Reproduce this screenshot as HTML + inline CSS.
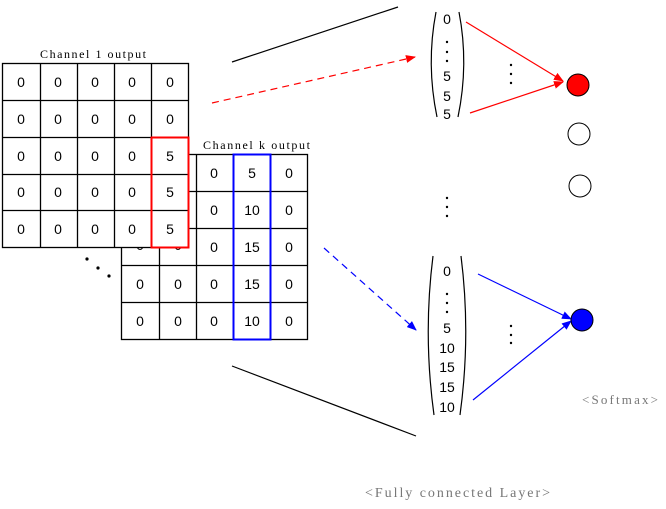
<!DOCTYPE html>
<html><head><meta charset="utf-8"><style>
html,body{margin:0;padding:0;background:#fff;}
svg{display:block;}
text{font-family:"Liberation Serif","Noto Serif CJK SC",serif;}
.n text{font-family:"Liberation Sans","Noto Sans CJK KR",sans-serif;font-size:14px;text-anchor:middle;}
</style></head><body>
<svg width="666" height="509" viewBox="0 0 666 509" xmlns="http://www.w3.org/2000/svg">
<defs>
<marker id="ar" markerWidth="10" markerHeight="8" refX="9" refY="4" orient="auto" markerUnits="userSpaceOnUse"><path d="M0,0 L10,4 L0,8 z" fill="#f00"/></marker>
<marker id="ab" markerWidth="10" markerHeight="8" refX="9" refY="4" orient="auto" markerUnits="userSpaceOnUse"><path d="M0,0 L10,4 L0,8 z" fill="#00f"/></marker>
</defs>
<g stroke="#000" stroke-width="1.3" fill="#fff">
<rect x="121.5" y="154.5" width="186" height="185"/>
<path d="M159.5 154.5V339.5M196.5 154.5V339.5M233.5 154.5V339.5M270.5 154.5V339.5M121.5 191.5H307.5M121.5 228.5H307.5M121.5 265.5H307.5M121.5 302.5H307.5" fill="none"/>
</g>
<g class="n">
<text x="140" y="250">0</text><text x="178" y="250">0</text>
<text x="140" y="289">0</text><text x="178" y="289">0</text><text x="214" y="289">0</text><text x="252" y="289">15</text><text x="289" y="289">0</text>
<text x="140" y="326">0</text><text x="178" y="326">0</text><text x="214" y="326">0</text><text x="252" y="326">10</text><text x="289" y="326">0</text>
<text x="214" y="178">0</text><text x="252" y="178">5</text><text x="289" y="178">0</text>
<text x="214" y="215">0</text><text x="252" y="215">10</text><text x="289" y="215">0</text>
<text x="214" y="252">0</text><text x="252" y="252">15</text><text x="289" y="252">0</text>
</g>
<rect x="233.5" y="154.5" width="37" height="185" fill="none" stroke="#00f" stroke-width="2"/>
<text x="203" y="149" font-size="12" textLength="107">Channel k output</text>
<g stroke="#000" stroke-width="1.3" fill="#fff">
<rect x="2.5" y="63.5" width="186" height="184"/>
<path d="M40.5 63.5V247.5M77.5 63.5V247.5M114.5 63.5V247.5M151.5 63.5V247.5M2.5 100.5H188.5M2.5 137.5H188.5M2.5 174.5H188.5M2.5 210.5H188.5" fill="none"/>
</g>
<g class="n">
<text x="21" y="87">0</text><text x="58" y="87">0</text><text x="95" y="87">0</text><text x="132" y="87">0</text><text x="170" y="87">0</text>
<text x="21" y="124">0</text><text x="58" y="124">0</text><text x="95" y="124">0</text><text x="132" y="124">0</text><text x="170" y="124">0</text>
<text x="21" y="161">0</text><text x="58" y="161">0</text><text x="95" y="161">0</text><text x="132" y="161">0</text><text x="170" y="161">5</text>
<text x="21" y="197">0</text><text x="58" y="197">0</text><text x="95" y="197">0</text><text x="132" y="197">0</text><text x="170" y="197">5</text>
<text x="21" y="234">0</text><text x="58" y="234">0</text><text x="95" y="234">0</text><text x="132" y="234">0</text><text x="170" y="234">5</text>
</g>
<rect x="151.5" y="137.5" width="37" height="110" fill="none" stroke="#f00" stroke-width="2"/>
<text x="40" y="58" font-size="12" textLength="106">Channel 1 output</text>
<circle cx="87" cy="259" r="1.6"/><circle cx="98" cy="268" r="1.6"/><circle cx="109" cy="276" r="1.6"/>
<line x1="232" y1="62" x2="398" y2="7" stroke="#000" stroke-width="1.2"/>
<line x1="232" y1="366" x2="416" y2="436" stroke="#000" stroke-width="1.2"/>
<line x1="212" y1="103" x2="415" y2="57" stroke="#f00" stroke-width="1.2" stroke-dasharray="7,5" marker-end="url(#ar)"/>
<line x1="324" y1="248" x2="416" y2="330" stroke="#00f" stroke-width="1.2" stroke-dasharray="7,5" marker-end="url(#ab)"/>
<path d="M436 12 Q426 64 437 117" fill="none" stroke="#000" stroke-width="1.2"/>
<path d="M459 12 Q469 64 458 117" fill="none" stroke="#000" stroke-width="1.2"/>
<g class="n"><text x="447" y="24">0</text><text x="447" y="81">5</text><text x="447" y="101">5</text><text x="447" y="119">5</text></g>
<circle cx="447" cy="42" r="1.2"/><circle cx="447" cy="52" r="1.2"/><circle cx="447" cy="61" r="1.2"/>
<path d="M433 256 Q423 335 434 415" fill="none" stroke="#000" stroke-width="1.2"/>
<path d="M461 256 Q471 335 460 415" fill="none" stroke="#000" stroke-width="1.2"/>
<g class="n"><text x="447" y="276">0</text><text x="447" y="333">5</text><text x="447" y="353">10</text><text x="447" y="372">15</text><text x="447" y="392">15</text><text x="447" y="412">10</text></g>
<circle cx="447" cy="294" r="1.2"/><circle cx="447" cy="303" r="1.2"/><circle cx="447" cy="312" r="1.2"/>
<circle cx="447" cy="198" r="1.2"/><circle cx="447" cy="207" r="1.2"/><circle cx="447" cy="216" r="1.2"/>
<circle cx="511" cy="65" r="1.2"/><circle cx="511" cy="74" r="1.2"/><circle cx="511" cy="83" r="1.2"/>
<circle cx="511" cy="326" r="1.2"/><circle cx="511" cy="335" r="1.2"/><circle cx="511" cy="343" r="1.2"/>
<line x1="466" y1="22" x2="563" y2="81" stroke="#f00" stroke-width="1.2" marker-end="url(#ar)"/>
<line x1="470" y1="113" x2="563" y2="82" stroke="#f00" stroke-width="1.2" marker-end="url(#ar)"/>
<line x1="478" y1="274" x2="571" y2="319" stroke="#00f" stroke-width="1.2" marker-end="url(#ab)"/>
<line x1="473" y1="400" x2="571" y2="321" stroke="#00f" stroke-width="1.2" marker-end="url(#ab)"/>
<circle cx="578" cy="85" r="11" fill="#f00" stroke="#000" stroke-width="1"/>
<circle cx="579" cy="134" r="11" fill="#fff" stroke="#000" stroke-width="1"/>
<circle cx="580" cy="186" r="11" fill="#fff" stroke="#000" stroke-width="1"/>
<circle cx="582" cy="320" r="11" fill="#00f" stroke="#000" stroke-width="1"/>
<text x="582" y="404" font-size="13" fill="#777" textLength="76">&lt;Softmax&gt;</text>
<text x="365" y="497" font-size="14" fill="#777" textLength="185">&lt;Fully connected Layer&gt;</text>
</svg>
</body></html>
